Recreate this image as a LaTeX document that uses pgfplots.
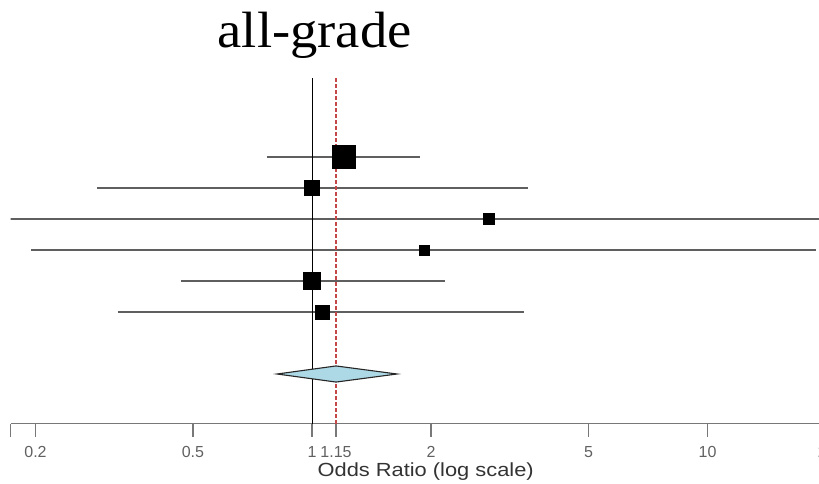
\documentclass[border=0pt]{standalone}
\usepackage{fontspec}
\setmainfont{Liberation Sans}
\newfontfamily\titlefont[FakeStretch=1.07]{Liberation Serif}
\newfontfamily\labfont[FakeStretch=1.15]{Liberation Sans}
\usepackage{pgfplots}
\pgfplotsset{compat=1.18}
\definecolor{refred}{RGB}{196,72,72}
\definecolor{diafill}{RGB}{173,216,230}
\definecolor{axgray}{RGB}{120,120,120}
\definecolor{cigray}{RGB}{95,95,95}

\begin{document}
\begin{tikzpicture}
\begin{axis}[
    name=fp,
    scale only axis,
    width=816pt, height=345.65pt,
    xmode=log, log basis x=10,
    xmin=0.1731, xmax=20,
    ymin=-2.6, ymax=8.55,
    axis y line=none,
    axis x line=bottom,
    x axis line style={-, axgray, line width=1.3pt},
    xtick={0.1731,0.2,0.5,1,1.15,2,5,10,20},
    xticklabels={,0.2,0.5,1,1.15,2,5,10,20},
    xminorticks=false,
    tick align=outside,
    major tick length=13pt,
    x tick style={axgray, line width=1.3pt},
    tick label style={font=\fontsize{16}{16}\selectfont, text=black!62, yshift=-6pt},
    /pgf/number format/assume math mode=true,
    xlabel={Odds Ratio (log scale)},
    xlabel style={font=\labfont\fontsize{19}{19}\selectfont, text=black!80,
        at={(axis description cs:0.5,0)}, anchor=base, yshift=-52.4pt, xshift=7pt},
]
% confidence intervals (row 6 = top study)
\addplot[cigray, line width=1.2pt] coordinates {(0.771,6) (1.875,6)};
\addplot[cigray, line width=1.2pt] coordinates {(0.286,5) (3.516,5)};
\addplot[cigray, line width=1.2pt] coordinates {(0.12,4) (65,4)};
\addplot[cigray, line width=1.2pt] coordinates {(0.195,3) (18.8,3)};
\addplot[cigray, line width=1.2pt] coordinates {(0.466,2) (2.17,2)};
\addplot[cigray, line width=1.2pt] coordinates {(0.323,1) (3.44,1)};
% reference lines
\addplot[black, line width=1pt] coordinates {(1,-2.6) (1,8.55)};
\addplot[refred, line width=1.3pt, dash pattern=on 3.5pt off 2.5pt] coordinates {(1.15,-2.6) (1.15,8.55)};
% point estimates, square size ~ weight
\addplot[only marks, mark=square*, black, mark size=11.5pt] coordinates {(1.20,6)};
\addplot[only marks, mark=square*, black, mark size=7.6pt] coordinates {(1.00,5)};
\addplot[only marks, mark=square*, black, mark size=5.4pt] coordinates {(2.79,4)};
\addplot[only marks, mark=square*, black, mark size=5.3pt] coordinates {(1.92,3)};
\addplot[only marks, mark=square*, black, mark size=8.6pt] coordinates {(1.00,2)};
\addplot[only marks, mark=square*, black, mark size=6.8pt] coordinates {(1.06,1)};
% pooled estimate
\addplot[fill=diafill, draw=black!85, line width=1.1pt] coordinates {(0.816,-1) (1.15,-0.74) (1.64,-1) (1.15,-1.26)} -- cycle;
\coordinate (ttl) at (axis cs:1.015,8.55);
\end{axis}
\node[anchor=base, font=\titlefont\fontsize{51}{51}\selectfont] at ([yshift=30pt]ttl) {all-grade};
\pgfresetboundingbox
\path[use as bounding box] ([xshift=-10.7pt, yshift=-59.4pt]fp.south west) rectangle ([xshift=808.3pt, yshift=423.6pt]fp.south west);
\end{tikzpicture}
\end{document}
